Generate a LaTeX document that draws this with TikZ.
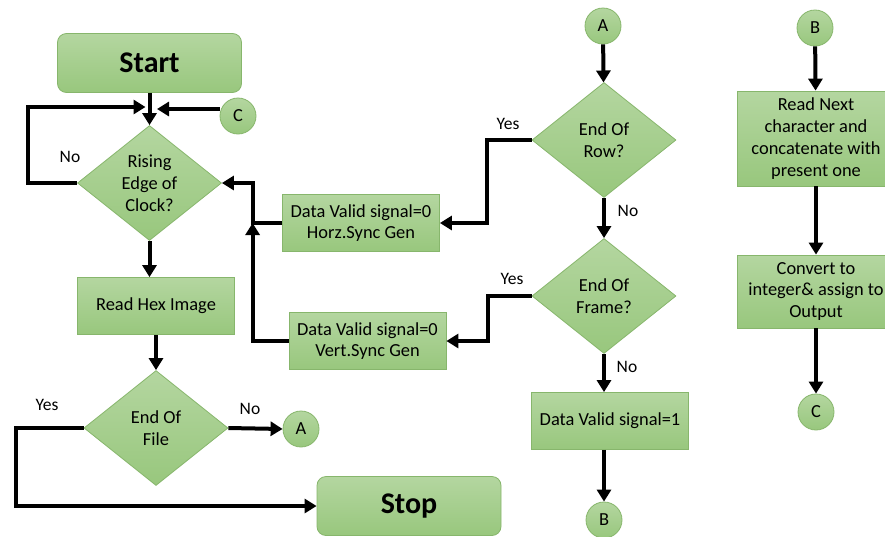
\documentclass[tikz,border=0pt]{standalone}
\usepackage{fontspec}
\setmainfont{Carlito}
\usetikzlibrary{shapes.geometric,arrows.meta}
\definecolor{boxtop}{RGB}{180,214,160}
\definecolor{boxbot}{RGB}{152,199,125}
\definecolor{boxline}{RGB}{135,182,108}

\begin{document}
\begin{tikzpicture}[
        x=1pt, y=-1pt,
        every node/.style={font=\fontsize{18.4}{21.8}\selectfont, align=center, text centered},
        leaf/.style={top color=boxtop, bottom color=boxbot, draw=boxline, line width=0.8pt},
        proc/.style={leaf, rectangle, minimum width=157pt, minimum height=57pt, inner sep=2pt},
        term/.style={leaf, rectangle, rounded corners=9pt, minimum width=184pt, minimum height=59pt, font=\fontsize{30}{32}\selectfont\bfseries},
        decision/.style={leaf, diamond, aspect=1.25, minimum width=144pt, minimum height=115pt, inner sep=0pt},
        conn/.style={leaf, circle, minimum size=36pt, inner sep=0pt},
        ar/.style={-{Triangle[length=12pt,width=14pt]}, line width=4pt},
        ln/.style={line width=4pt},
        lbl/.style={font=\fontsize{17.5}{20}\selectfont},
    ]
    \useasboundingbox (0,0) rectangle (885,536);

    % main loop
    \node[term](start) at (149.5,63) {Start};
    \node[decision](clk) at (149.5,183) {Rising\\Edge of\\Clock?};
    \node[conn](c1) at (238,116) {C};
    \coordinate (join) at (149.5,107);
    \node[proc](hex) at (156,306) {Read Hex Image};
    \node[decision](eof) at (156,428) {End Of\\File};
    \node[conn](a1) at (301,429) {A};
    \node[term](stop) at (409,506) {Stop};

    % row / frame checks
    \node[conn](a2) at (603,26) {A};
    \node[decision](row) at (604,140) {End Of\\Row?};
    \node[decision](frame) at (604,296) {End Of\\Frame?};
    \node[proc](valid) at (610,421) {Data Valid signal=1};
    \node[conn](b1) at (604,520) {B};
    \node[proc](horz) at (361,223) {Data Valid signal=0\\Horz.Sync Gen};
    \node[proc](vert) at (367.5,341) {Data Valid signal=0\\Vert.Sync Gen};

    % conversion
    \node[conn](b2) at (815,28) {B};
    \node[proc, minimum height=95pt](next) at (816,138.5) {Read Next\\character and\\concatenate with\\present one};
    \node[proc, minimum height=73pt](conv) at (816,291.5) {Convert to\\integer\& assign to\\Output};
    \node[conn](c2) at (816,412) {C};

    \draw[ln] (start) -- (join);
    \draw[ar] (join) -- (clk.north);
    \draw[ar] (c1.west |- 0,109) -- (157,109);
    \draw[ar] (clk.west) -- ++(-49,0) |- ([xshift=-4pt]join);
    \draw[ar] (clk.south) -- (clk.south |- hex.north);
    \draw[ar] (hex.south) -- (eof.north);
    \draw[ar] (eof.east) -- (a1.west);
    \draw[ar] (eof.west) -- ++(-68,0) |- (stop.west);

    \draw[ar] (a2) -- (row);
    \draw[ar] (row) -- (frame);
    \draw[ar] (frame.south) -- (frame.south |- valid.north);
    \draw[ar] (valid.south -| b1) -- (b1);
    \draw[ar] (row.west) -- ++(-45,0) |- (horz.east);
    \draw[ar] (frame.west) -- ++(-44,0) |- (vert.east);
    \draw[ar] (horz.west) -- ++(-29.5,0) |- (clk.east);
    \draw[ar] (vert.west) -| ([xshift=-29.5pt]horz.west);

    \draw[ar] (b2) -- (next);
    \draw[ar] (next) -- (conv);
    \draw[ar] (conv.south -| c2) -- (c2);

    \node[lbl](no1) at (70,157) {No};
    \node[lbl](yes1) at (47,405) {Yes};
    \node[lbl](no2) at (250,409) {No};
    \node[lbl](yes2) at (508,124) {Yes};
    \node[lbl](no3) at (628,211) {No};
    \node[lbl](yes3) at (512,279) {Yes};
    \node[lbl](no4) at (627,367) {No};
\end{tikzpicture}
\end{document}
